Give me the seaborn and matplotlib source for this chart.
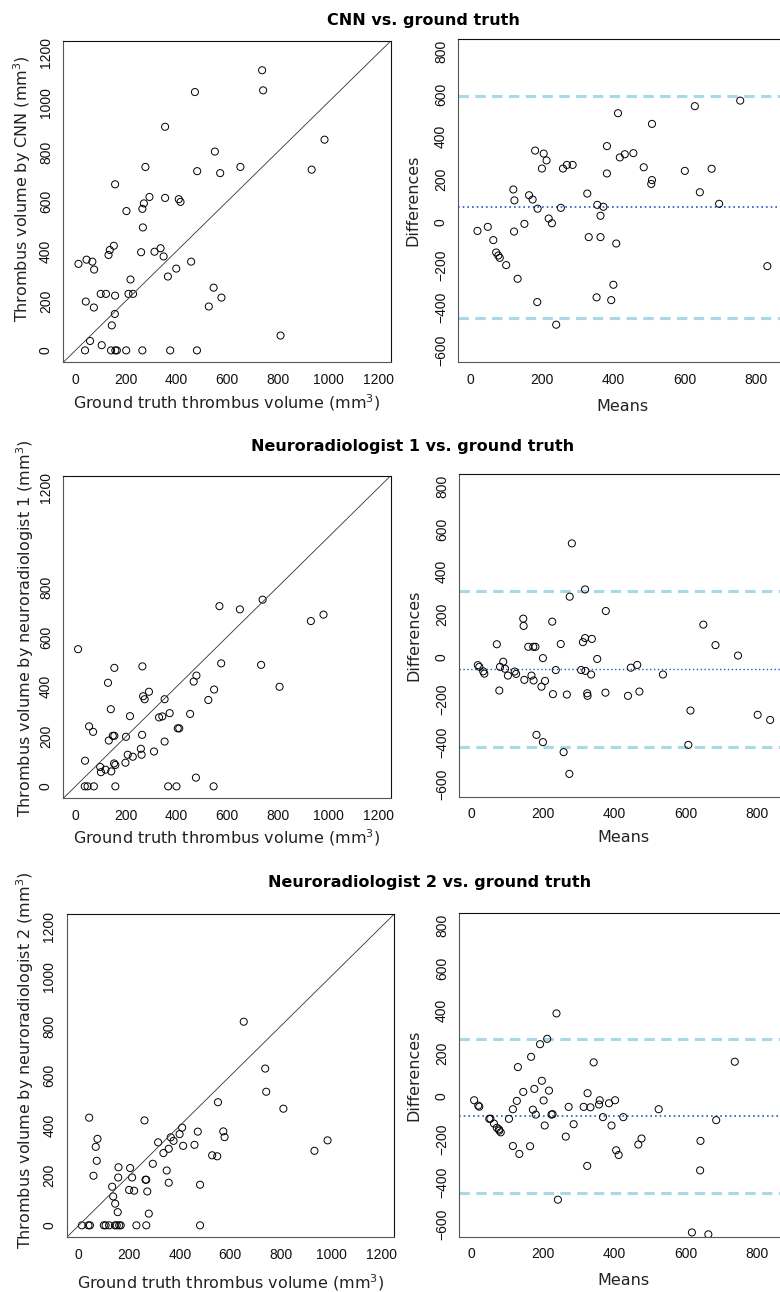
import numpy as np
import pandas as pd
import matplotlib
matplotlib.use('Agg')
import matplotlib.pyplot as plt
import matplotlib.font_manager as fm
import seaborn as sns

sns.set_style('white')
plt.rcParams['font.family'] = ['DejaVu Sans']

# narrow font for the tick numbers (R style)
names = {f.name for f in fm.fontManager.ttflist}
tick_font = 'Liberation Sans Narrow' if 'Liberation Sans Narrow' in names else 'Liberation Sans'

# ---- CNN vs ground truth ----
gt_cnn = [12, 44, 67, 74, 41, 73, 58, 38, 104, 100, 121, 131, 136, 152, 157, 157, 156, 144, 141, 158,
          164, 201, 202, 218, 210, 228, 265, 260, 267, 265, 271, 277, 293, 313, 337, 349, 355, 355, 366, 375,
          399, 409, 416, 458, 473, 481, 482, 528, 547, 552, 573, 578, 653, 739, 743, 812, 935, 986]
cnn_vol = [349, 366, 358, 326, 197, 173, 38, 0, 21, 228, 228, 385, 405, 422, 670, 221, 147, 101, 0, 0,
           0, 0, 562, 286, 228, 228, 0, 396, 496, 571, 593, 740, 619, 398, 412, 379, 615, 902, 298, 0,
           330, 610, 599, 358, 1042, 0, 723, 177, 253, 802, 715, 213, 740, 1130, 1049, 60, 729, 850]
ba_cnn_mean = [19.6, 48.5, 64, 72, 78, 82, 100, 120, 123, 122, 132, 151, 164, 174, 181, 187, 188, 200, 205, 213,
               219, 228, 240, 253, 259, 270, 286, 327, 331, 353, 355, 364, 364, 372, 382, 382, 394, 400, 408, 413,
               418, 432, 456, 485, 506, 508, 508, 600, 628, 642, 675, 696, 755, 831]
ba_cnn_diff = [-41, -22, -84, -142, -156, -167, -201, 153, 102, -44, -265, -8, 126, 106, 335, -374, 63, 251, 321, 289,
               17, -5, -480, 67, 251, 268, 268, 134, -70, -352, 81, 30, -70, 72, 356, 228, -365, -293, -100, 510,
               303, 318, 323, 257, 179, 197, 460, 240, 543, 140, 250, 86, 569, -206]
ba_cnn_lines = [73, 591, -447]  # mean, upper, lower

# ---- Neuroradiologist 1 vs ground truth ----
gt_n1 = [10.5, 38, 37, 48, 73, 54, 70, 98, 101, 119, 142, 132, 140, 129, 154, 148, 154, 153, 158, 158,
         198, 200, 207, 216, 227, 259, 262, 264, 265, 268, 274, 291, 311, 331, 344, 353, 353, 367, 373, 400,
         405, 411, 454, 468, 479, 477, 526, 547, 549, 570, 577, 651, 735, 741, 808, 932, 982]
n1_vol = [551, 103, 0, 0, 0, 241, 219, 78, 57, 67, 60, 184, 310, 416, 476, 203, 203, 92, 86, 0,
          95, 199, 127, 282, 119, 151, 127, 207, 482, 362, 350, 380, 140, 277, 281, 350, 180, 0, 294, 0,
          233, 233, 291, 421, 445, 35, 347, 0, 389, 724, 494, 711, 488, 750, 400, 664, 690]
ba_n1_mean = [17.8, 22, 33, 36, 71, 78, 80, 89, 94, 102, 121, 125, 145, 148, 146, 159, 168, 173, 179, 174,
              182, 196, 200, 206, 200, 226, 228, 236, 250, 258, 267, 275, 281, 274, 307, 312, 318, 318, 319, 324,
              325, 335, 337, 352, 375, 376, 438, 446, 464, 470, 536, 607, 613, 649, 683, 746, 801, 836]
ba_n1_diff = [-39, -47, -68, -79, 59, -158, -47, -23, -56, -88, -69, -80, 179, -108, 145, 47, -88, 47, 47, -111,
              -366, -140, -6, -113, -400, 165, -175, -62, 60, -447, -177, 282, 532, -549, -62, 69, 316, 88, -66, -171,
              -183, -83, 84, -10, -168, 215, -183, -51, -38, -163, -83, -413, -252, 151, 55, 6, -272, -296]
ba_n1_lines = [-57, 308, -425]

# ---- Neuroradiologist 2 vs ground truth ----
gt_n2 = [12, 38, 44, 41, 58, 67, 74, 71, 99, 106, 120, 132, 136, 144, 143, 150, 154, 156, 157, 160,
         166, 199, 203, 211, 219, 228, 260, 264, 267, 267, 271, 277, 293, 314, 335, 348, 356, 356, 364, 375,
         399, 409, 413, 458, 471, 480, 480, 528, 548, 551, 572, 577, 653, 738, 742, 810, 933, 985]
n2_vol = [0, 0, 0, 432, 199, 315, 347, 259, 0, 0, 0, 155, 116, 87, 0, 0, 53, 192, 233, 0,
          0, 142, 230, 192, 139, 0, 421, 183, 183, 0, 136, 47, 247, 333, 290, 220, 307, 171, 353, 339,
          366, 392, 319, 323, 376, 163, 0, 281, 277, 494, 377, 354, 817, 629, 536, 468, 299, 341]
ba_n2_mean = [7.5, 19, 22, 50, 53, 63, 71, 77, 78, 82, 105, 116, 116, 127, 130, 134, 145, 164, 167, 172,
              176, 180, 192, 197, 202, 205, 212, 217, 224, 227, 238, 242, 264, 272, 286, 314, 324, 325, 333, 342,
              357, 359, 368, 385, 392, 402, 405, 412, 425, 467, 476, 524, 617, 641, 640, 663, 685, 737]
ba_n2_diff = [-18, -43, -48, -105, -104, -127, -147, -154, -160, -168, -105, -60, -232, -21, 137, -269, 21, -233, 185, -62,
              35, -85, 244, 73, -19, -136, 269, 27, -85, -83, 388, -483, -188, -49, -130, -49, -325, 15, -51, 159,
              -38, -18, -97, -32, -136, -18, -252, -274, -97, -225, -197, -60, -636, -208, -346, -645, -111, 162]
ba_n2_lines = [-94, 268, -453]

titles = ['CNN vs. ground truth', 'Neuroradiologist 1 vs. ground truth', 'Neuroradiologist 2 vs. ground truth']
ylabels = ['Thrombus volume by CNN (mm$^3$)',
           'Thrombus volume by neuroradiologist 1 (mm$^3$)',
           'Thrombus volume by neuroradiologist 2 (mm$^3$)']
vol_ticks = [0, 200, 400, 600, 800, 1000, 1200]
vol_ticklabels = [['0', '200', '400', '600', '800', '1000', '1200'],
                  ['0', '200', '400', '600', '800', '', '1200'],
                  ['0', '200', '400', '600', '800', '1000', '1200']]
mean_ticks = [0, 200, 400, 600, 800]
diff_ticks = [-600, -400, -200, 0, 200, 400, 600, 800]

W, H = 780, 1292
fig = plt.figure(figsize=(W / 100, H / 100), dpi=100)


def pos(l, t, r, b):
    return [l / W, 1 - b / H, (r - l) / W, (b - t) / H]


left_pos = [pos(63.3, 41, 390.7, 362.3), pos(63.3, 475.7, 390.7, 798.3), pos(66.7, 914.3, 394, 1237.3)]
right_pos = [pos(458.3, 39.3, 786.3, 362.3), pos(459.3, 474.3, 787.3, 796.7), pos(459.3, 913.3, 787.3, 1236.7)]
title_xy = [(423, 20), (413, 446), (430, 882)]
left_ylab = [(-0.127, 0.54), (-0.117, 0.528), (-0.127, 0.549)]
left_xlab = [-0.127, -0.123, -0.141]
right_ylab = [-0.137, -0.140, -0.139]
right_xlab = [-0.136, -0.128, -0.136]

pairs = [(gt_cnn, cnn_vol), (gt_n1, n1_vol), (gt_n2, n2_vol)]
ba = [(ba_cnn_mean, ba_cnn_diff, ba_cnn_lines), (ba_n1_mean, ba_n1_diff, ba_n1_lines),
      (ba_n2_mean, ba_n2_diff, ba_n2_lines)]
mean_lw = [1.2, 1.0, 1.2]


def style_axes(ax):
    for side in ['left', 'bottom']:
        ax.spines[side].set_color('#555555')
    for side in ['top', 'right']:
        ax.spines[side].set_color('#111111')
    for s in ax.spines.values():
        s.set_linewidth(0.8)
        s.set_visible(True)
    ax.tick_params(axis='both', direction='out', length=4.5, width=0.7, color='#222222',
                   labelsize=10, labelcolor='#111111')
    ax.tick_params(axis='x', pad=3)
    ax.tick_params(axis='y', pad=3)
    for lbl in ax.get_xticklabels() + ax.get_yticklabels():
        lbl.set_fontfamily(tick_font)
    for lbl in ax.get_yticklabels():
        lbl.set_rotation(90)
        lbl.set_va('center')


for i in range(3):
    # scatter: method vs ground truth
    gt, vol = pairs[i]
    df = pd.DataFrame({'gt': gt, 'vol': vol})
    ax = fig.add_axes(left_pos[i])
    sns.scatterplot(data=df, x='gt', y='vol', ax=ax, marker='o', s=26,
                    facecolors='none', edgecolor='black', linewidth=0.7)
    ax.set_xlim(-48, 1248)
    ax.set_ylim(-48, 1248)
    ax.axline((0, 0), slope=1, color='#333333', lw=0.6)
    ax.set_xticks(vol_ticks)
    ax.set_yticks(vol_ticks)
    ax.set_yticklabels(vol_ticklabels[i])
    ax.set_xlabel('Ground truth thrombus volume (mm$^3$)', fontsize=11.5, color='#222222')
    ax.set_ylabel(ylabels[i], fontsize=11.5, color='#222222')
    ax.xaxis.set_label_coords(0.5, left_xlab[i])
    ax.xaxis.label.set_va('center')
    ax.yaxis.set_label_coords(*left_ylab[i])
    ax.yaxis.label.set_va('center')
    style_axes(ax)

    # Bland-Altman
    m, d, lines = ba[i]
    dfb = pd.DataFrame({'mean': m, 'diff': d})
    ax2 = fig.add_axes(right_pos[i])
    sns.scatterplot(data=dfb, x='mean', y='diff', ax=ax2, marker='o', s=26,
                    facecolors='none', edgecolor='black', linewidth=0.7, zorder=3)
    ax2.set_xlim(-34, 884)
    ax2.set_ylim(-656, 856)
    ax2.axhline(lines[0], color='#2a56c6', lw=mean_lw[i], dashes=(1.0, 1.8), zorder=2)
    ax2.axhline(lines[1], color='#a9d8e8', lw=2.2, dashes=(3.4, 2.1), zorder=2)
    ax2.axhline(lines[2], color='#a9d8e8', lw=2.2, dashes=(3.4, 2.1), zorder=2)
    ax2.set_xticks(mean_ticks)
    ax2.set_yticks(diff_ticks)
    ax2.set_xlabel('Means', fontsize=11.5, color='#222222')
    ax2.set_ylabel('Differences', fontsize=11.5, color='#222222')
    ax2.xaxis.set_label_coords(0.5, right_xlab[i])
    ax2.xaxis.label.set_va('center')
    ax2.yaxis.set_label_coords(right_ylab[i], 0.5)
    ax2.yaxis.label.set_va('center')
    style_axes(ax2)

    tx, ty = title_xy[i]
    fig.text(tx / W, 1 - ty / H, titles[i], ha='center', va='center',
             fontsize=11.5, fontweight='bold', color='black')

fig.savefig('out.png', dpi=100, facecolor='white')
